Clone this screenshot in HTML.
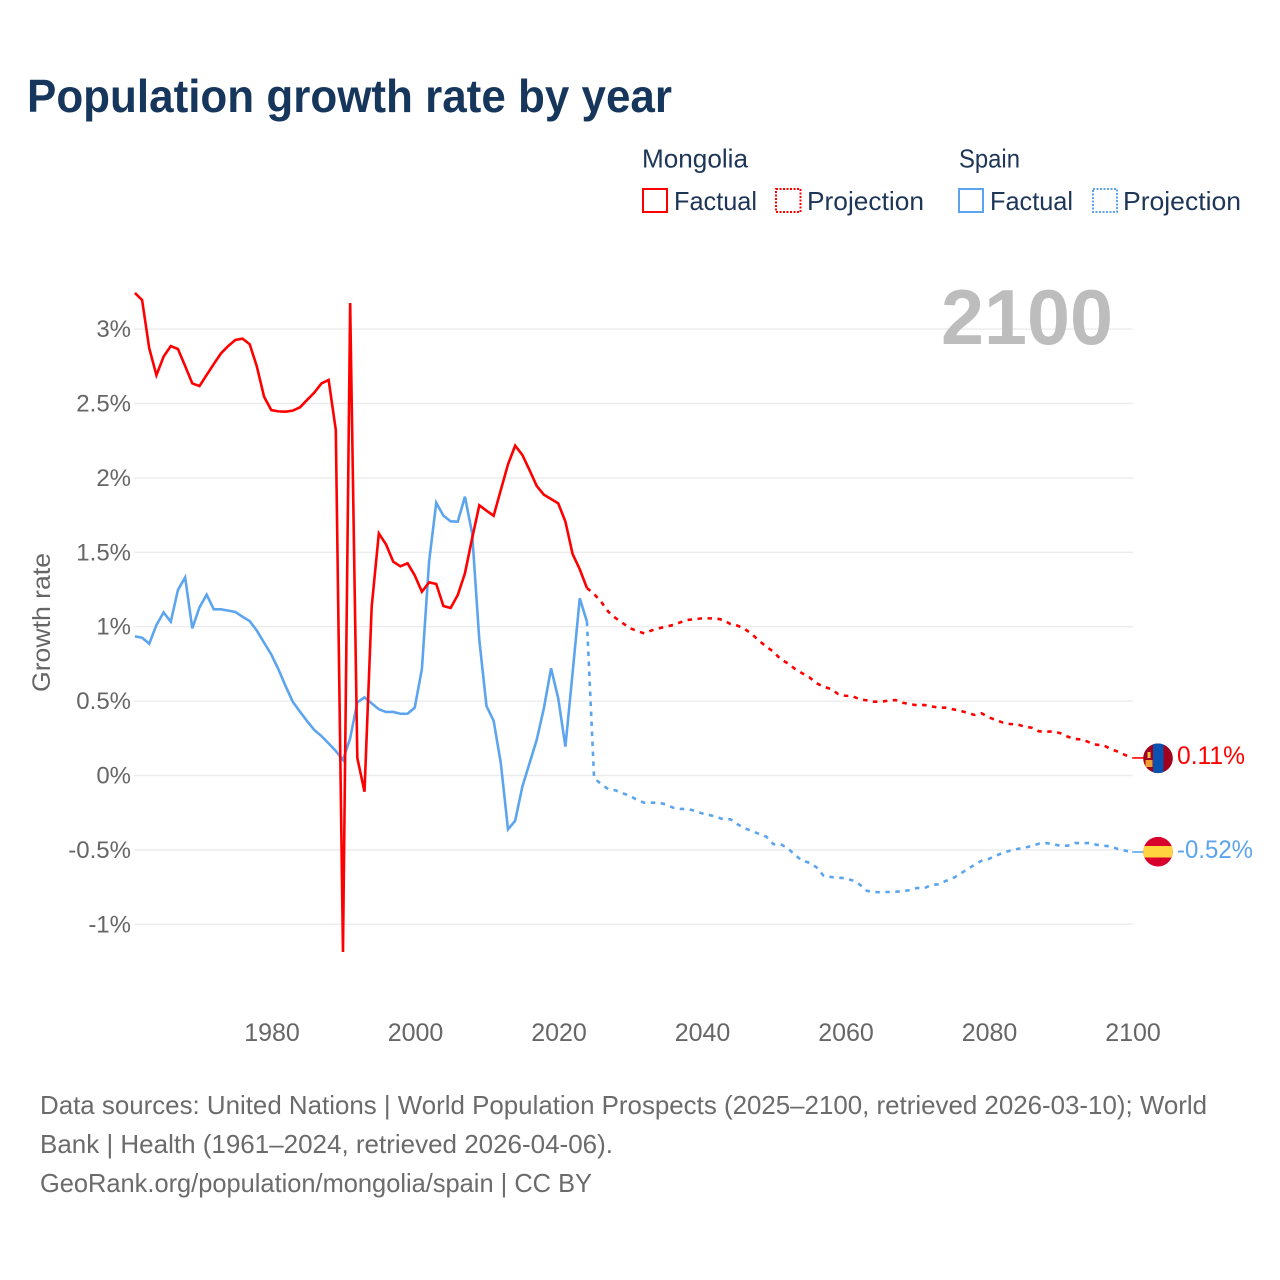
<!DOCTYPE html>
<html lang="en">
<head>
<meta charset="utf-8">
<title>Population growth rate by year</title>
<style>
html,body{margin:0;padding:0;background:#fff;}
svg{display:block;font-family:"Liberation Sans",sans-serif;}
</style>
</head>
<body>
<svg id="chart" xmlns="http://www.w3.org/2000/svg" width="1280" height="1280" viewBox="0 0 1280 1280">
<rect x="0" y="0" width="1280" height="1280" fill="#ffffff"/>
<text x="27" y="112" font-size="46" font-weight="700" fill="#17365c" textLength="645" lengthAdjust="spacingAndGlyphs">Population growth rate by year</text>

<g font-size="26" fill="#1d3557">
<text x="642" y="167.5" textLength="106" lengthAdjust="spacingAndGlyphs">Mongolia</text>
<text x="959" y="167.5" textLength="61" lengthAdjust="spacingAndGlyphs">Spain</text>
<rect x="643" y="189" width="24" height="23" fill="none" stroke="#ff0000" stroke-width="2"/>
<text x="674" y="210" textLength="83" lengthAdjust="spacingAndGlyphs">Factual</text>
<rect x="776" y="189" width="24.5" height="23" fill="none" stroke="#ff0000" stroke-width="2" stroke-dasharray="2 1.5"/>
<text x="807" y="210" textLength="117" lengthAdjust="spacingAndGlyphs">Projection</text>
<rect x="959" y="189" width="24" height="23" fill="none" stroke="#5ca5ee" stroke-width="2"/>
<text x="990" y="210" textLength="83" lengthAdjust="spacingAndGlyphs">Factual</text>
<rect x="1093" y="189" width="24" height="23" fill="none" stroke="#5ca5ee" stroke-width="2" stroke-dasharray="2 1.5"/>
<text x="1123" y="210" textLength="118" lengthAdjust="spacingAndGlyphs">Projection</text>
</g>

<g id="grid"></g>
<text x="941" y="344" font-size="78" font-weight="700" fill="#bdbdbd" textLength="172" lengthAdjust="spacingAndGlyphs">2100</text>
<g id="yticks" font-size="24" fill="#666666" text-anchor="end"></g>
<g id="xticks" font-size="25" fill="#666666" text-anchor="middle"></g>
<text transform="translate(50,692) rotate(-90)" x="0" y="0" font-size="25" fill="#666666" textLength="139" lengthAdjust="spacingAndGlyphs">Growth rate</text>
<g id="series" fill="none" stroke-width="2.6"></g>

<defs>
<clipPath id="flag-clip-mn"><circle cx="1158" cy="758.3" r="14.8"/></clipPath>
<clipPath id="flag-clip-es"><circle cx="1158" cy="851.7" r="14.8"/></clipPath>
</defs>
<g clip-path="url(#flag-clip-mn)">
<rect x="1143" y="743" width="30" height="31" fill="#a0001e"/>
<rect x="1153" y="743" width="10.5" height="31" fill="#0a52b0"/>
<rect x="1145.5" y="760" width="7" height="7" fill="#f0a030"/>
<rect x="1147.5" y="752" width="3" height="6" fill="#f4c040"/>
</g>
<g clip-path="url(#flag-clip-es)">
<rect x="1143" y="836" width="30" height="31" fill="#d8002c"/>
<rect x="1143" y="846" width="30" height="11.5" fill="#ffd43f"/>
</g>
<text x="1177" y="764" font-size="25" fill="#ff0000" textLength="68" lengthAdjust="spacingAndGlyphs">0.11%</text>
<text x="1177" y="858" font-size="25" fill="#5ca5ee" textLength="76" lengthAdjust="spacingAndGlyphs">-0.52%</text>

<g font-size="26" fill="#6b6b6b">
<text x="40" y="1114" textLength="1167" lengthAdjust="spacingAndGlyphs">Data sources: United Nations | World Population Prospects (2025–2100, retrieved 2026-03-10); World</text>
<text x="40" y="1153" textLength="573" lengthAdjust="spacingAndGlyphs">Bank | Health (1961–2024, retrieved 2026-04-06).</text>
<text x="40" y="1192" textLength="552" lengthAdjust="spacingAndGlyphs">GeoRank.org/population/mongolia/spain | CC BY</text>
</g>
</svg>

<script>
const factualStartYear = 1961;
const projectionStartYear = 2024;
const yTickValues = [-1, -0.5, 0, 0.5, 1, 1.5, 2, 2.5, 3];
const yTickLabels = ["-1%", "-0.5%", "0%", "0.5%", "1%", "1.5%", "2%", "2.5%", "3%"];
const xTickYears = [1980, 2000, 2020, 2040, 2060, 2080, 2100];
const mongoliaFactual = [3.243,3.196,2.871,2.69,2.815,2.886,2.866,2.752,2.635,2.617,2.692,2.766,2.837,2.886,2.927,2.936,2.898,2.748,2.546,2.456,2.447,2.445,2.452,2.474,2.524,2.573,2.635,2.658,2.322,-1.186,3.175,0.118,-0.109,1.134,1.627,1.553,1.437,1.406,1.426,1.345,1.235,1.298,1.287,1.139,1.126,1.213,1.359,1.594,1.816,1.78,1.746,1.919,2.091,2.217,2.154,2.053,1.946,1.887,1.858,1.829,1.706,1.489,1.386,1.26];
const mongoliaProjection = [1.26,1.22,1.166,1.1,1.058,1.024,0.99,0.971,0.955,0.975,0.989,1.0,1.011,1.029,1.045,1.05,1.056,1.056,1.056,1.045,1.018,1.007,0.985,0.949,0.906,0.866,0.832,0.781,0.754,0.716,0.687,0.66,0.62,0.597,0.581,0.548,0.536,0.534,0.512,0.505,0.496,0.496,0.503,0.507,0.489,0.48,0.472,0.474,0.465,0.456,0.456,0.445,0.435,0.422,0.407,0.418,0.391,0.373,0.355,0.346,0.344,0.328,0.321,0.297,0.294,0.297,0.284,0.261,0.245,0.243,0.223,0.207,0.203,0.178,0.16,0.138,0.118];
const spainFactual = [0.935,0.926,0.886,1.011,1.096,1.034,1.247,1.332,0.989,1.13,1.215,1.117,1.117,1.108,1.099,1.067,1.038,0.973,0.893,0.814,0.714,0.601,0.496,0.429,0.366,0.306,0.265,0.216,0.165,0.104,0.25,0.492,0.525,0.485,0.445,0.427,0.427,0.415,0.415,0.456,0.716,1.437,1.833,1.746,1.708,1.706,1.874,1.627,0.911,0.467,0.368,0.082,-0.362,-0.304,-0.075,0.082,0.239,0.452,0.72,0.519,0.194,0.689,1.191,1.034];
const spainProjection = [1.034,-0.019,-0.057,-0.093,-0.1,-0.12,-0.136,-0.165,-0.183,-0.183,-0.183,-0.194,-0.216,-0.225,-0.225,-0.237,-0.254,-0.265,-0.277,-0.294,-0.294,-0.328,-0.355,-0.373,-0.393,-0.411,-0.462,-0.462,-0.489,-0.534,-0.573,-0.586,-0.617,-0.675,-0.682,-0.687,-0.69,-0.705,-0.732,-0.775,-0.783,-0.785,-0.783,-0.781,-0.778,-0.77,-0.756,-0.758,-0.736,-0.731,-0.709,-0.691,-0.662,-0.63,-0.601,-0.573,-0.561,-0.539,-0.519,-0.505,-0.494,-0.485,-0.474,-0.458,-0.454,-0.462,-0.472,-0.472,-0.454,-0.454,-0.454,-0.465,-0.472,-0.476,-0.494,-0.505,-0.514];

const NS = "http://www.w3.org/2000/svg";
function xScale(year) { return 134.9 + 7.175 * (year - 1961); }
function yScale(value) { return 775.5 - 148.8 * value; }

const grid = document.getElementById("grid");
const yticks = document.getElementById("yticks");
const xticks = document.getElementById("xticks");
const seriesGroup = document.getElementById("series");

yTickValues.forEach(function (v, i) {
  const line = document.createElementNS(NS, "line");
  line.setAttribute("x1", 134);
  line.setAttribute("x2", 1133);
  line.setAttribute("y1", yScale(v));
  line.setAttribute("y2", yScale(v));
  line.setAttribute("stroke", "#ececec");
  line.setAttribute("stroke-width", "1.4");
  
  
  grid.appendChild(line);

  const label = document.createElementNS(NS, "text");
  label.setAttribute("x", 131);
  label.setAttribute("y", yScale(v) + 8);
  label.textContent = yTickLabels[i];
  
  
  yticks.appendChild(label);
});

xTickYears.forEach(function (year) {
  const label = document.createElementNS(NS, "text");
  label.setAttribute("x", xScale(year) + 0.8);
  label.setAttribute("y", 1041);
  label.textContent = String(year);
  
  
  xticks.appendChild(label);
});

function buildPath(values, startYear) {
  return values.map(function (v, i) {
    return (i ? "L" : "M") + xScale(startYear + i).toFixed(2) + " " + yScale(v).toFixed(2);
  }).join("");
}

function addFactual(values, color, name) {
  const p = document.createElementNS(NS, "path");
  p.setAttribute("d", buildPath(values, factualStartYear));
  p.setAttribute("stroke", color);
  
  
  seriesGroup.appendChild(p);
}

function addProjection(values, color, name) {
  const p = document.createElementNS(NS, "path");
  p.setAttribute("d", buildPath(values, projectionStartYear));
  p.setAttribute("stroke", color);
  p.setAttribute("stroke-dasharray", "4.5 5.5");
  
  
  seriesGroup.appendChild(p);
}

function addConnector(values, color, name) {
  const y = yScale(values[values.length - 1]);
  const c = document.createElementNS(NS, "line");
  c.setAttribute("x1", xScale(2100));
  c.setAttribute("x2", 1144);
  c.setAttribute("y1", y);
  c.setAttribute("y2", y);
  c.setAttribute("stroke", color);
  c.setAttribute("stroke-width", "1.6");
  
  
  seriesGroup.appendChild(c);
}

addFactual(spainFactual, "#5ca5ee", "spain-factual-line");
addProjection(spainProjection, "#5ca5ee", "spain-projection-line");
addFactual(mongoliaFactual, "#ff0000", "mongolia-factual-line");
addProjection(mongoliaProjection, "#ff0000", "mongolia-projection-line");
addConnector(mongoliaProjection, "#ff0000", "mongolia-end-connector");
addConnector(spainProjection, "#5ca5ee", "spain-end-connector");
</script>
</body>
</html>
